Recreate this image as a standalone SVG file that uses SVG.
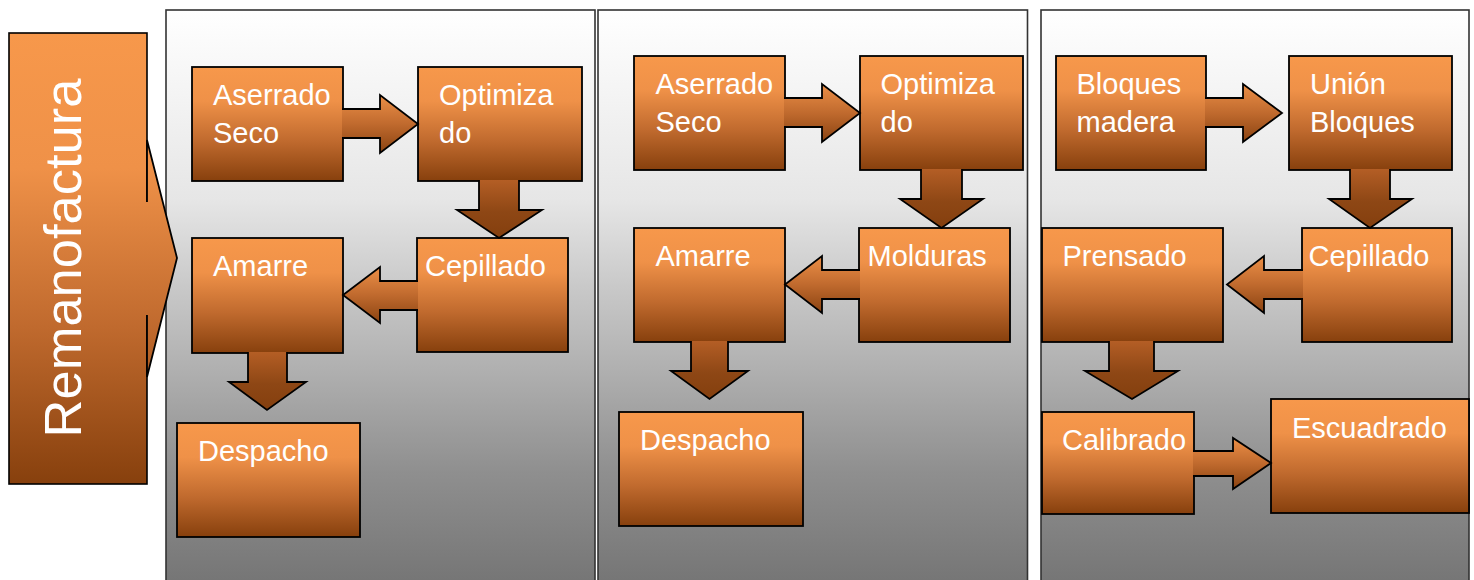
<svg xmlns="http://www.w3.org/2000/svg" width="1474" height="580" viewBox="0 0 1474 580">
  <defs>
    <linearGradient id="gBox" x1="0" y1="0" x2="0" y2="1">
      <stop offset="0" stop-color="#f7984b"/>
      <stop offset="0.3" stop-color="#ef9148"/>
      <stop offset="0.65" stop-color="#c06a2e"/>
      <stop offset="1" stop-color="#87400d"/>
    </linearGradient>
    <linearGradient id="gLeft" gradientUnits="userSpaceOnUse" x1="0" y1="33" x2="0" y2="484">
      <stop offset="0" stop-color="#f7984b"/>
      <stop offset="0.3" stop-color="#ef9148"/>
      <stop offset="0.65" stop-color="#c06a2e"/>
      <stop offset="1" stop-color="#87400d"/>
    </linearGradient>
    <linearGradient id="gArrH" x1="0" y1="0" x2="0" y2="1">
      <stop offset="0" stop-color="#ec8f47"/>
      <stop offset="0.5" stop-color="#c06a2e"/>
      <stop offset="1" stop-color="#8a4311"/>
    </linearGradient>
    <linearGradient id="gArrD" x1="0" y1="0" x2="0" y2="1">
      <stop offset="0" stop-color="#b45e25"/>
      <stop offset="0.55" stop-color="#8e4715"/>
      <stop offset="1" stop-color="#843f0e"/>
    </linearGradient>
    <linearGradient id="gPanel" gradientUnits="userSpaceOnUse" x1="0" y1="10" x2="0" y2="580">
      <stop offset="0" stop-color="#ffffff"/>
      <stop offset="0.333" stop-color="#e6e6e6"/>
      <stop offset="0.49" stop-color="#c8c8c8"/>
      <stop offset="0.63" stop-color="#b0b0b0"/>
      <stop offset="0.81" stop-color="#8f8f8f"/>
      <stop offset="1" stop-color="#767676"/>
    </linearGradient>
  </defs>
  <style>
    .panel { fill: url(#gPanel); stroke: #333; stroke-width: 1.6; }
    .box { fill: url(#gBox); stroke: #000; stroke-width: 1.8; }
    .arrH { fill: url(#gArrH); stroke: #000; stroke-width: 1.8; stroke-linejoin: miter; }
    .arrD { fill: url(#gArrD); stroke: #000; stroke-width: 1.8; stroke-linejoin: miter; }
    .lbl { font-family: "Liberation Sans", Arial, sans-serif; font-size: 29px; fill: #ffffff; }
    .title { font-family: "Liberation Sans", Arial, sans-serif; font-size: 52.5px; fill: #ffffff; }
  </style>

  <rect width="1474" height="580" fill="#ffffff"/>

  <g id="panels">
    <rect class="panel" x="166" y="10" width="429" height="590"/>
    <rect class="panel" x="598" y="10" width="429.5" height="590"/>
    <rect class="panel" x="1041" y="10" width="428" height="590"/>
  </g>

  <g id="remanofactura">
    <rect x="9" y="33" width="138" height="451" fill="url(#gLeft)" stroke="#000" stroke-width="1.6"/>
    <path d="M100,202 H147 V140 L177,258 L147,377 V315 H100 Z" fill="url(#gLeft)"/>
    <path d="M147,202 V140 L177,258 L147,377 V315" fill="none" stroke="#000" stroke-width="1.8"/>
    <text class="title" text-anchor="middle" transform="translate(81,258) rotate(-90)">Remanofactura</text>
  </g>

  <!-- Panel 1 nodes -->
  <g id="p1-aserrado"><rect class="box" x="192" y="67" width="151" height="114"/><text class="lbl" x="213" y="105">Aserrado</text><text class="lbl" x="213" y="143">Seco</text></g>
  <g id="p1-optimizado"><rect class="box" x="418" y="67" width="164" height="114"/><text class="lbl" x="439" y="105">Optimiza</text><text class="lbl" x="439" y="143">do</text></g>
  <g id="p1-cepillado"><rect class="box" x="417" y="238" width="151" height="114"/><text class="lbl" x="425" y="276">Cepillado</text></g>
  <g id="p1-amarre"><rect class="box" x="192" y="238" width="151" height="115"/><text class="lbl" x="213" y="276">Amarre</text></g>
  <g id="p1-despacho"><rect class="box" x="177" y="423" width="183" height="114"/><text class="lbl" x="198" y="461">Despacho</text></g>

  <!-- Panel 2 nodes -->
  <g id="p2-aserrado"><rect class="box" x="634" y="56" width="151" height="114"/><text class="lbl" x="655.5" y="93.5">Aserrado</text><text class="lbl" x="655.5" y="132">Seco</text></g>
  <g id="p2-optimizado"><rect class="box" x="860" y="56" width="163" height="114"/><text class="lbl" x="880.5" y="93.5">Optimiza</text><text class="lbl" x="880.5" y="132">do</text></g>
  <g id="p2-molduras"><rect class="box" x="859" y="228" width="151" height="114"/><text class="lbl" x="867.5" y="266">Molduras</text></g>
  <g id="p2-amarre"><rect class="box" x="634" y="228" width="151" height="114"/><text class="lbl" x="655.5" y="266">Amarre</text></g>
  <g id="p2-despacho"><rect class="box" x="619" y="412" width="184" height="114"/><text class="lbl" x="640" y="450">Despacho</text></g>

  <!-- Panel 3 nodes -->
  <g id="p3-bloques"><rect class="box" x="1056" y="56" width="150" height="114"/><text class="lbl" x="1076.5" y="93.5">Bloques</text><text class="lbl" x="1076.5" y="132">madera</text></g>
  <g id="p3-union"><rect class="box" x="1289" y="56" width="163" height="114"/><text class="lbl" x="1310" y="93.5">Unión</text><text class="lbl" x="1310" y="132">Bloques</text></g>
  <g id="p3-cepillado"><rect class="box" x="1302" y="228" width="150" height="114"/><text class="lbl" x="1308.5" y="266">Cepillado</text></g>
  <g id="p3-prensado"><rect class="box" x="1042" y="228" width="181" height="114"/><text class="lbl" x="1062.5" y="266">Prensado</text></g>
  <g id="p3-calibrado"><rect class="box" x="1042" y="412" width="152" height="102"/><text class="lbl" x="1062" y="450">Calibrado</text></g>
  <g id="p3-escuadrado"><rect class="box" x="1271" y="399" width="198" height="114"/><text class="lbl" x="1292" y="437.5">Escuadrado</text></g>

  <g id="connectors">
    <!-- Panel 1 -->
    <path class="arrH" d="M342,109 H380 V95 L418,124 L380,153 V138 H342"/>
    <path class="arrD" d="M479,180 V210 H457 L499,238 L542,210 H519 V180"/>
    <path class="arrH" d="M418,281 H380 V267 L343,295 L380,323 V310 H418"/>
    <path class="arrD" d="M248,352 V382 H229 L267,410 L306,382 H287 V352"/>
    <!-- Panel 2 -->
    <path class="arrH" d="M784,98 H822 V84 L860,113 L822,142 V127 H784"/>
    <path class="arrD" d="M921,169 V199 H900 L941.5,228 L983,199 H962 V169"/>
    <path class="arrH" d="M860,270 H822 V256 L785,284.5 L822,313 V299 H860"/>
    <path class="arrD" d="M691,341 V371 H671 L709.5,399 L748,371 H728 V341"/>
    <!-- Panel 3 -->
    <path class="arrH" d="M1205,98 H1243 V84 L1282,113 L1243,142 V127 H1205"/>
    <path class="arrD" d="M1350,169 V199 H1329 L1370,228 L1412,199 H1390 V169"/>
    <path class="arrH" d="M1303,270 H1264 V256 L1227,284.5 L1264,313 V299 H1303"/>
    <path class="arrD" d="M1109,341 V371 H1085 L1132,399 L1178,371 H1154 V341"/>
    <path class="arrH" d="M1193,451 H1233 V438 L1271,463 L1233,489 V476 H1193"/>
  </g>
</svg>
